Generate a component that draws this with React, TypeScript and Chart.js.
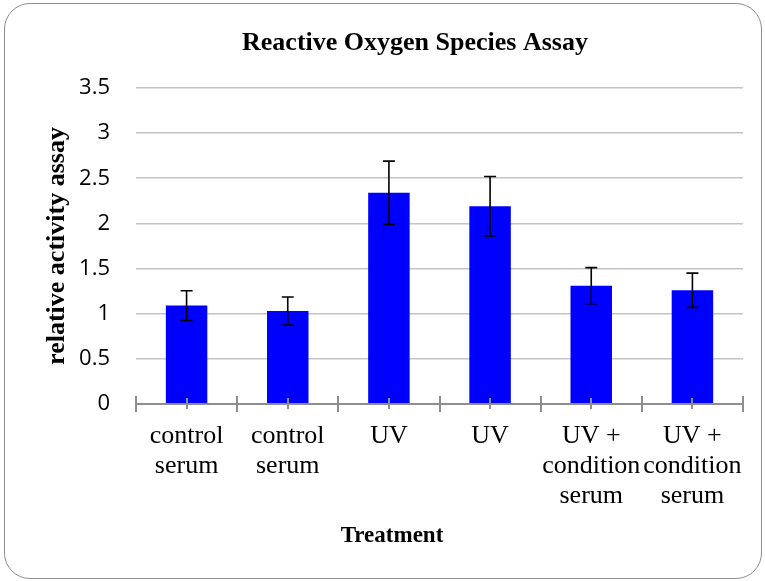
import React, { useEffect, useRef } from "react";
import { Chart, registerables } from "chart.js";

Chart.register(...registerables);

const chartTitle = "Reactive Oxygen Species Assay";
const xAxisTitle = "Treatment";
const yAxisTitle = "relative activity assay";
const categories: string[][] = [
  ["control", "serum"],
  ["control", "serum"],
  ["UV"],
  ["UV"],
  ["UV +", "condition", "serum"],
  ["UV +", "condition", "serum"],
];
const means = [1.09, 1.03, 2.34, 2.19, 1.31, 1.26];
const errors = [0.165, 0.155, 0.35, 0.33, 0.2, 0.19];
const yMin = 0;
const yMax = 3.5;
const yStep = 0.5;

const SERIF = "'Liberation Serif', 'Times New Roman', serif";
const SANS = "'Open Sans', 'Liberation Sans', sans-serif";

const errorBarPlugin = {
  id: "errorBars",
  afterDatasetsDraw(chart: any) {
    const { ctx, scales } = chart;
    const xs = scales.x;
    const ys = scales.y;
    ctx.save();
    ctx.strokeStyle = "#000";
    ctx.lineWidth = 1.6;
    means.forEach((m, i) => {
      const x = xs.getPixelForValue(i);
      const yt = ys.getPixelForValue(m + errors[i]);
      const yb = ys.getPixelForValue(m - errors[i]);
      ctx.beginPath();
      ctx.moveTo(x, yt);
      ctx.lineTo(x, yb);
      ctx.moveTo(x - 6, yt);
      ctx.lineTo(x + 6, yt);
      ctx.moveTo(x - 6, yb);
      ctx.lineTo(x + 6, yb);
      ctx.stroke();
    });
    ctx.restore();
  },
};

const axisPlugin = {
  id: "axisMarks",
  afterDatasetsDraw(chart: any) {
    const { ctx, scales } = chart;
    const xs = scales.x;
    const ys = scales.y;
    const y0 = ys.getPixelForValue(0);
    const n = categories.length;
    const w = (xs.right - xs.left) / n;
    ctx.save();
    ctx.strokeStyle = "#8e8e8e";
    ctx.lineWidth = 2;
    ctx.beginPath();
    ctx.moveTo(xs.left, y0);
    ctx.lineTo(xs.right, y0);
    for (let k = 0; k <= n; k++) {
      const x = Math.round(xs.left + k * w);
      ctx.moveTo(x, y0 - 8);
      ctx.lineTo(x, y0 + 8);
    }
    for (let i = 0; i < n; i++) {
      const x = Math.round(xs.getPixelForValue(i));
      ctx.moveTo(x, y0 - 6);
      ctx.lineTo(x, y0 + 5);
    }
    ctx.stroke();
    ctx.restore();
  },
};

const titlesPlugin = {
  id: "titlesText",
  afterDraw(chart: any) {
    const { ctx } = chart;
    ctx.save();
    ctx.fillStyle = "#000";
    ctx.textAlign = "center";
    ctx.textBaseline = "middle";
    ctx.font = `bold 26px ${SERIF}`;
    ctx.fillText(chartTitle, 415, 43);
    ctx.font = `bold 23px ${SERIF}`;
    ctx.fillText(xAxisTitle, 392, 536);
    ctx.restore();
  },
};

export default function App() {
  const ref = useRef<HTMLCanvasElement | null>(null);
  useEffect(() => {
    if (!ref.current) return;
    const chart = new Chart(ref.current, {
      type: "bar",
      data: {
        labels: categories,
        datasets: [
          {
            data: means,
            backgroundColor: "#0000ff",
            borderWidth: 0,
            categoryPercentage: 1,
            barPercentage: 0.41,
          },
        ],
      },
      options: {
        animation: false,
        responsive: false,
        devicePixelRatio: 1,
        layout: { padding: { left: 0, right: 22, top: 88, bottom: 0 } },
        plugins: {
          legend: { display: false },
          tooltip: { enabled: false },
          title: { display: false },
        },
        scales: {
          x: {
            grid: { display: false, drawTicks: false },
            border: { display: false },
            ticks: {
              color: "#000",
              autoSkip: false,
              maxRotation: 0,
              minRotation: 0,
              padding: 17,
              font: { family: SERIF, size: 26, lineHeight: 1.16 },
            },
            afterFit(scale: any) {
              scale.height = 177;
            },
          },
          y: {
            min: yMin,
            max: yMax,
            ticks: {
              stepSize: yStep,
              color: "#000",
              padding: 26,
              font: { family: SANS, size: 22 },
              callback: (v: any) => String(Number(v)),
            },
            grid: { color: "#c4c4c4", lineWidth: 1.6, drawTicks: false },
            border: { display: false },
            title: {
              display: true,
              text: yAxisTitle,
              color: "#000",
              font: { family: SERIF, size: 26, weight: "bold", lineHeight: 1.2 },
              padding: { top: 42, bottom: 0 },
            },
            afterFit(scale: any) {
              scale.width = 136;
            },
          },
        },
      },
      plugins: [axisPlugin, errorBarPlugin, titlesPlugin],
    });
    return () => chart.destroy();
  }, []);

  return (
    <div style={{ position: "absolute", left: 0, top: 0, width: 765, height: 581, background: "#fff" }}>
      <canvas ref={ref} width={765} height={581} style={{ position: "absolute", left: 0, top: 0 }} />
      <div
        style={{
          position: "absolute",
          left: 4,
          top: 3,
          width: 758,
          height: 576,
          boxSizing: "border-box",
          border: "1.5px solid #8c8c8c",
          borderRadius: 26,
          pointerEvents: "none",
        }}
      />
    </div>
  );
}
